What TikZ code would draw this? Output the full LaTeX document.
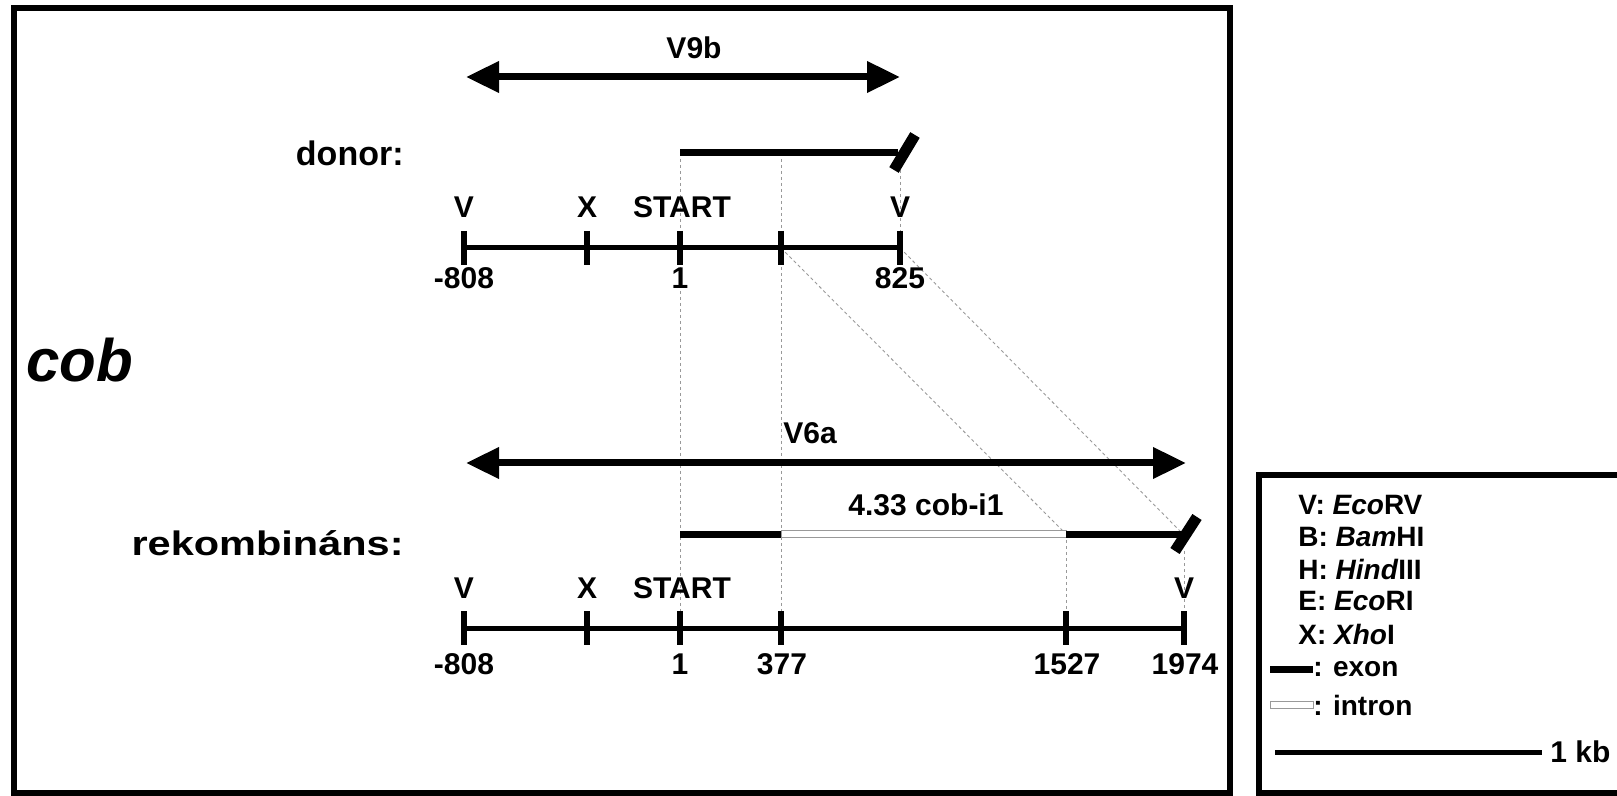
\documentclass[tikz,border=0pt]{standalone}
\usepackage{fontspec}
\setmainfont{Liberation Sans}
\usetikzlibrary{arrows.meta}
\begin{document}
\begin{tikzpicture}[x=0.5pt,y=-0.5pt,
  lbl/.style={font=\fontsize{15}{17}\selectfont\bfseries, inner sep=0pt},
  biglbl/.style={font=\fontsize{17}{19}\selectfont\bfseries, inner sep=0pt, anchor=east},
  leg/.style={font=\fontsize{14}{16}\selectfont\bfseries, inner sep=0pt, anchor=west},
  frame/.style={line width=2.6pt},
  axisline/.style={line width=2.5pt},
  tickmark/.style={line width=3pt},
  exonline/.style={line width=3.5pt},
  intronbox/.style={draw=gray!80, line width=0.5pt, fill=white},
  guide/.style={gray!80, line width=0.45pt, dash pattern=on 1.6pt off 1.4pt},
  cutmark/.style={line width=5.5pt},
  span/.style={line width=3.5pt,
    {Triangle[length=16.5pt,width=15pt]}-{Triangle[length=16.5pt,width=15pt]}},
]
\useasboundingbox (0,0) rectangle (1617,796);
\clip (0,0) rectangle (1617,796);

% outer frames
\draw[frame] (14,8) rectangle (1230,793);
\draw[frame] (1259,475) rectangle (1680,793);

% gene name
\node[font=\fontsize{30}{33}\selectfont\bfseries\itshape, inner sep=0pt, anchor=west]
  (gene) at (26,360) {cob};

% ---------- donor ----------
\coordinate (dA1) at (466,77);
\coordinate (dA2) at (900,77);
\draw[span] (dA1) -- (dA2);
\node[lbl] (v9b) at (694,48) {V9b};

\node[biglbl] (donor) at (404,153) {donor:};

\coordinate (dE1) at (680,153);
\coordinate (dE2) at (898,153);
\coordinate (dS1) at (894,170);
\coordinate (dS2) at (915,135);

\coordinate (dV1) at (464,248);
\coordinate (dX)  at (587,248);
\coordinate (dSt) at (680,248);
\coordinate (dM)  at (781,248);
\coordinate (dV2) at (900,248);

% recombinant coordinates
\coordinate (rA1) at (466,463);
\coordinate (rA2) at (1186,463);
\coordinate (rE1) at (680,534);
\coordinate (rI1) at (781,534);
\coordinate (rI2) at (1066,534);
\coordinate (rE2) at (1181,534);
\coordinate (rS1) at (1175,551);
\coordinate (rS2) at (1197,517);

\coordinate (rV1) at (464,628);
\coordinate (rX)  at (587,628);
\coordinate (rSt) at (680,628);
\coordinate (rM)  at (781,628);
\coordinate (rI)  at (1066,628);
\coordinate (rV2) at (1184,628);

% dotted guide lines
\draw[guide] (dE1) -- (rSt);
\draw[guide] (781,153) -- (rM);
\draw[guide] (900,170) -- (dV2);
\draw[guide] (dM) -- (rI2);
\draw[guide] (dV2) -- (1180,531);
\draw[guide] (rI2) -- (rI);
\draw[guide] (1184,551) -- (rV2);

% donor exon
\draw[exonline] (dE1) -- (dE2);
\draw[cutmark] (dS1) -- (dS2);

% donor map
\draw[axisline] (dV1) -- (dV2);
\foreach \p in {dV1,dX,dSt,dM,dV2}
  \draw[tickmark] ([yshift=8.5pt]\p) -- ([yshift=-8.5pt]\p);

\node[lbl] (dlV1) at (464,207) {V};
\node[lbl] (dlX)  at (587,207) {X};
\node[lbl] (dlSt) at (682,207) {START};
\node[lbl] (dlV2) at (900,207) {V};
\node[lbl] (dn1) at (464,278) {-808};
\node[lbl] (dn2) at (680,278) {1};
\node[lbl] (dn3) at (900,278) {825};

% ---------- recombinant ----------
\draw[span] (rA1) -- (rA2);
\node[lbl] (v6a) at (810,433) {V6a};

\node[biglbl] (rekomb) at (404,543) {\scalebox{1.22}[1]{rekombináns:}};

\draw[exonline] (rE1) -- (rI1);
\draw[intronbox] ([yshift=1.8pt]rI1) rectangle ([yshift=-1.8pt]rI2);
\draw[exonline] (rI2) -- (rE2);
\draw[cutmark] (rS1) -- (rS2);
\node[lbl] (intr) at (926,505) {4.33 cob-i1};

\draw[axisline] (rV1) -- (rV2);
\foreach \p in {rV1,rX,rSt,rM,rI,rV2}
  \draw[tickmark] ([yshift=8.5pt]\p) -- ([yshift=-8.5pt]\p);

\node[lbl] (rlV1) at (464,588) {V};
\node[lbl] (rlX)  at (587,588) {X};
\node[lbl] (rlSt) at (682,588) {START};
\node[lbl] (rlV2) at (1184,588) {V};
\node[lbl] (rn1) at (464,664) {-808};
\node[lbl] (rn2) at (680,664) {1};
\node[lbl] (rn3) at (782,664) {377};
\node[lbl] (rn4) at (1067,664) {1527};
\node[lbl] (rn5) at (1185,664) {1974};

% ---------- legend ----------
\node[leg] (lg1) at (1298,505) {V: \textit{Eco}RV};
\node[leg] (lg2) at (1298,537) {B: \textit{Bam}HI};
\node[leg] (lg3) at (1298,569) {H: \textit{Hind}III};
\node[leg] (lg4) at (1298,601) {E: \textit{Eco}RI};
\node[leg] (lg5) at (1298,634) {X: \textit{Xho}I};

\coordinate (lx1) at (1270,669);
\coordinate (lx2) at (1313,669);
\draw[exonline] (lx1) -- (lx2);
\node[leg] (lg6) at (lx2) {: exon};

\coordinate (li1) at (1270,705);
\coordinate (li2) at (1313,705);
\draw[intronbox] ([yshift=1.8pt]li1) rectangle ([yshift=-1.8pt]li2);
\node[leg] (lg7) at (li2) {: intron};

\coordinate (ls1) at (1275,752);
\coordinate (ls2) at (1542,752);
\draw[axisline] (ls1) -- (ls2);
\node[leg, font=\fontsize{15}{17}\selectfont\bfseries] (lg8) at (1550,752) {1 kb};
\end{tikzpicture}
\end{document}
